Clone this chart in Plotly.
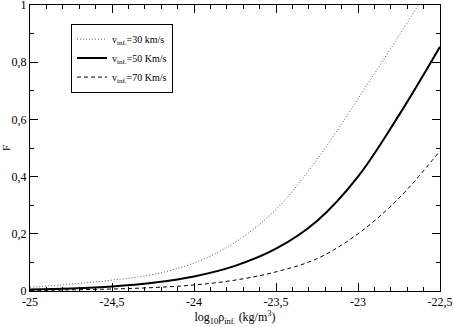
import plotly.graph_objects as go

# log10 of density (x values)
log_rho = [-25, -24.75, -24.5, -24.25, -24, -23.75, -23.5, -23.25, -23, -22.75, -22.5]

# F for each velocity
f_30 = [0.013, 0.024, 0.038, 0.058, 0.098, 0.170, 0.285, 0.460, 0.672, 0.893, 1.12]
f_50 = [0.005, 0.009, 0.016, 0.029, 0.051, 0.088, 0.148, 0.245, 0.400, 0.615, 0.854]
f_70 = [0.002, 0.004, 0.007, 0.012, 0.021, 0.038, 0.067, 0.113, 0.200, 0.325, 0.490]

x_ticks = [-25, -24.5, -24, -23.5, -23, -22.5]
x_labels = ["-25", "-24,5", "-24", "-23,5", "-23", "-22,5"]
y_ticks = [0, 0.2, 0.4, 0.6, 0.8, 1]
y_labels = ["0", "0,2", "0,4", "0,6", "0,8", "1"]

font = "Liberation Serif"

fig = go.Figure()
fig.add_trace(go.Scatter(x=log_rho, y=f_30, mode="lines", line_shape="spline",
                         line=dict(color="#555", width=1, dash="1px,2px"),
                         name="v<sub>inf.</sub>=30 km/s"))
fig.add_trace(go.Scatter(x=log_rho, y=f_50, mode="lines", line_shape="spline",
                         line=dict(color="black", width=2),
                         name="v<sub>inf.</sub>=50 Km/s"))
fig.add_trace(go.Scatter(x=log_rho, y=f_70, mode="lines", line_shape="spline",
                         line=dict(color="black", width=1, dash="4px,3px"),
                         name="v<sub>inf.</sub>=70 Km/s"))

axis_style = dict(showline=True, linecolor="black", linewidth=1, mirror="ticks",
                  ticks="inside", ticklen=8, tickcolor="black", tickwidth=1,
                  showgrid=False, zeroline=False, automargin=False,
                  ticklabeloverflow="allow",
                  tickfont=dict(family=font, size=12, color="black"))

fig.update_xaxes(range=[-25, -22.5], tickmode="array", tickvals=x_ticks, ticktext=x_labels,
                 minor=dict(ticks="inside", ticklen=4, tick0=-25, dtick=0.1, tickcolor="black"),
                 title=dict(text="log<sub>10</sub>ρ<sub>inf.</sub> (kg/m<sup>3</sup>)",
                            font=dict(family=font, size=12, color="black"), standoff=4),
                 **axis_style)
fig.update_yaxes(range=[0, 1], tickmode="array", tickvals=y_ticks, ticktext=y_labels,
                 minor=dict(ticks="inside", ticklen=4, tick0=0, dtick=0.1, tickcolor="black"),
                 title=dict(text="F", font=dict(family=font, size=11, color="black"), standoff=2),
                 **axis_style)

fig.update_layout(
    width=453, height=327,
    margin=dict(l=30, r=13, t=5, b=36),
    plot_bgcolor="white", paper_bgcolor="white",
    font=dict(family=font, size=12, color="black"),
    legend=dict(x=0.1, y=0.935, xanchor="left", yanchor="top",
                bordercolor="black", borderwidth=1, bgcolor="white",
                font=dict(family=font, size=10), itemwidth=30,
                tracegroupgap=0),
)

fig.write_html("out.html", config={"displayModeBar": False},
               post_script="document.body.style.margin='0';")
